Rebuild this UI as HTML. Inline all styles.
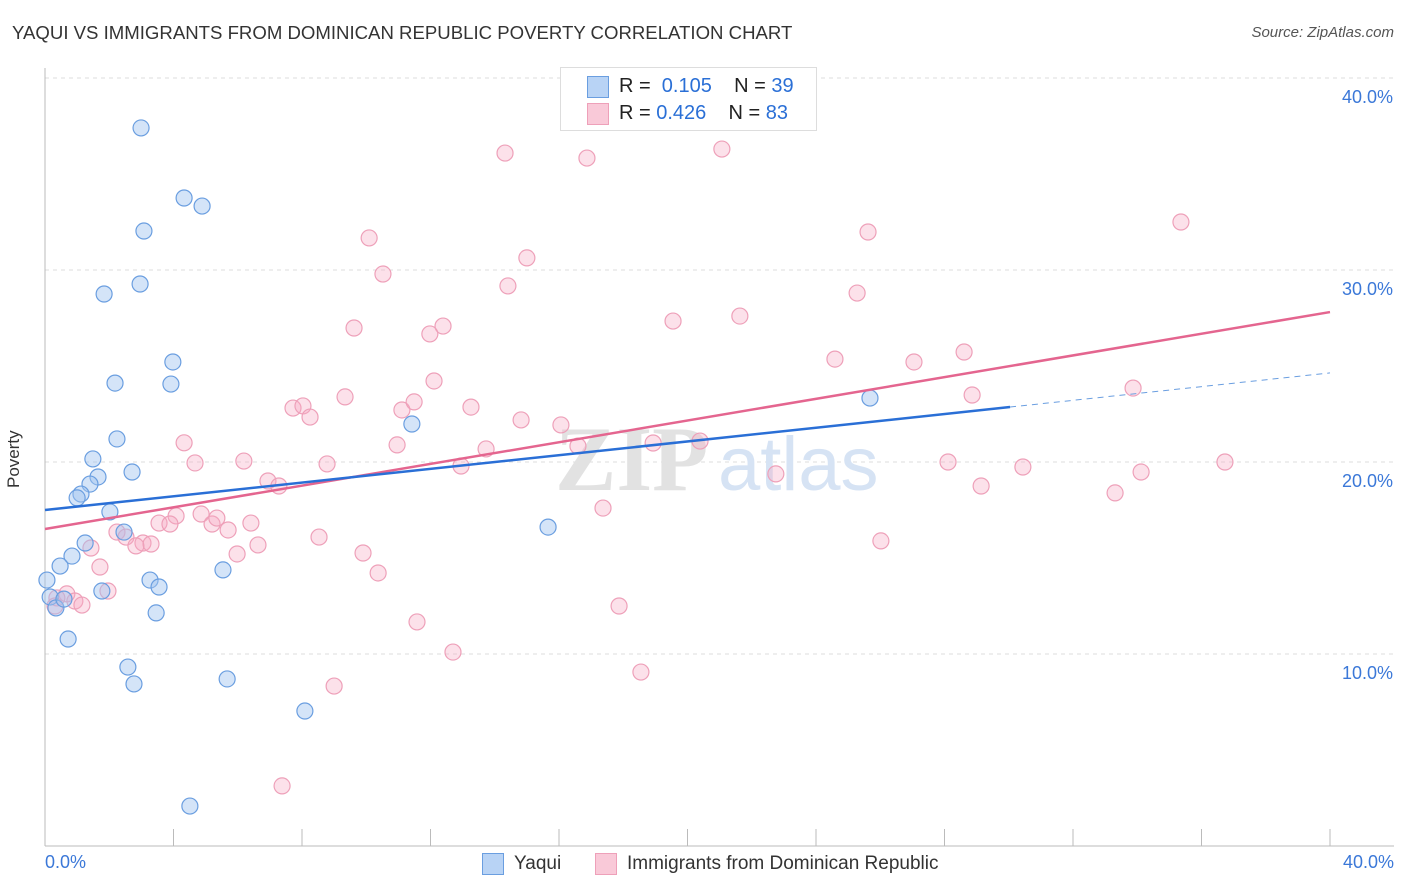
<!DOCTYPE html>
<html><head><meta charset="utf-8"><style>
body{margin:0;background:#fff;font-family:"Liberation Sans",sans-serif;}
#wrap{position:relative;width:1406px;height:892px;overflow:hidden;}
.t{position:absolute;white-space:nowrap;}
</style></head><body>
<div id="wrap">
<div class="t" style="left:12px;top:22px;font-size:18.6px;color:#333;">YAQUI VS IMMIGRANTS FROM DOMINICAN REPUBLIC POVERTY CORRELATION CHART</div>
<div class="t" style="right:12px;top:24px;font-size:15px;color:#555;font-style:italic;">Source: ZipAtlas.com</div>
<svg id="svg" width="1406" height="892" style="position:absolute;left:0;top:0"></svg>
</div>
<script>
const yaquiX=[2.99,4.33,4.89,3.08,1.84,2.96,3.98,2.18,3.92,2.24,1.49,1.65,1.40,1.12,1.00,2.71,2.02,2.46,1.25,0.84,0.47,0.06,0.16,0.34,0.59,0.72,1.77,3.27,3.55,3.46,2.58,2.77,5.54,5.67,8.09,4.51,11.42,15.66,25.68];
const yaquiY=[37.40,33.75,33.33,32.03,28.75,29.27,25.21,24.11,24.06,21.20,20.16,19.22,18.85,18.33,18.13,19.48,17.40,16.35,15.78,15.10,14.58,13.85,12.97,12.40,12.86,10.78,13.28,13.85,13.49,12.14,9.32,8.44,14.38,8.70,7.03,2.08,21.98,16.61,23.33];
const domX=[14.32,16.87,21.07,35.36,10.09,25.62,15.00,10.52,14.41,25.28,19.55,21.63,9.62,12.39,11.98,24.59,27.05,28.61,12.11,9.34,7.72,8.03,8.25,11.11,11.49,13.26,28.86,33.87,14.82,16.06,4.33,10.96,13.73,16.59,18.93,20.39,4.67,6.19,8.78,12.95,28.11,30.44,34.12,36.73,22.75,6.94,7.28,29.14,33.31,17.37,4.08,3.55,3.89,4.86,5.20,5.35,6.41,5.70,2.24,2.52,3.05,3.30,2.83,8.53,6.63,26.02,1.43,5.98,9.90,1.71,10.37,1.96,0.68,0.37,0.93,1.15,0.31,17.87,11.58,12.70,18.55,9.00,7.38];
const domY=[36.09,35.83,36.30,32.50,31.67,31.98,30.63,29.79,29.17,28.80,27.34,27.60,26.98,27.08,26.67,25.36,25.21,25.73,24.22,23.39,22.81,22.92,22.34,22.71,23.13,22.86,23.49,23.85,22.19,21.93,21.00,20.89,20.68,20.83,20.99,21.09,19.95,20.05,19.90,19.79,20.00,19.74,19.48,20.00,19.38,19.01,18.75,18.75,18.39,17.60,17.19,16.82,16.77,17.29,16.77,17.08,16.82,16.46,16.35,16.09,15.78,15.73,15.63,16.09,15.68,15.89,15.52,15.21,15.26,14.53,14.22,13.28,13.13,12.92,12.76,12.55,12.50,12.50,11.67,10.10,9.06,8.33,3.13];
const yTicks=[10,20,30,40];
const yTickLabels=["10.0%","20.0%","30.0%","40.0%"];
const yaquiTrend=[17.5,24.64];
const domTrend=[16.51,27.81];
const yaquiSolidEnd=30.04;

const NS="http://www.w3.org/2000/svg";
const svg=document.getElementById('svg');
const X=v=>45+v*1285/40;
const Y=v=>846-v*19.2;
function mk(tag,attrs){const e=document.createElementNS(NS,tag);for(const k in attrs)e.setAttribute(k,attrs[k]);svg.appendChild(e);return e;}
yTicks.forEach((t,i)=>{
  const g=mk('line',{x1:45,x2:1394,y1:Y(t),y2:Y(t),stroke:'#ddd','stroke-dasharray':'4,4'});
  
  
  const tx=mk('text',{x:1393,y:Y(t)+25,'text-anchor':'end','font-size':18,fill:'#3b78d8','font-family':'Liberation Sans, sans-serif'});
  tx.textContent=yTickLabels[i];
  
  
});
let ax=mk('line',{x1:45,x2:45,y1:68,y2:846,stroke:'#bbb'});


ax=mk('line',{x1:45,x2:1394,y1:846,y2:846,stroke:'#bbb'});


for(let i=1;i<=10;i++){const tk=mk('line',{x1:X(i*4),x2:X(i*4),y1:829,y2:846,stroke:'#bbb'});

}
let wm=mk('text',{x:555,y:490,'font-size':92,fill:'#e2e2e2','font-family':'Liberation Serif, serif','font-weight':'bold'});wm.textContent='ZIP';


wm=mk('text',{x:718,y:490,'font-size':76,fill:'#d6e3f4','font-family':'Liberation Sans, sans-serif'});wm.textContent='atlas';


domX.forEach((v,i)=>{const c=mk('circle',{cx:X(v),cy:Y(domY[i]),r:8,fill:'rgba(246,170,195,0.35)',stroke:'#eea0b9','stroke-width':1.2});

});
yaquiX.forEach((v,i)=>{const c=mk('circle',{cx:X(v),cy:Y(yaquiY[i]),r:8,fill:'rgba(160,196,240,0.45)',stroke:'#6a9ee0','stroke-width':1.2});

});
const yAt=(tr,x)=>tr[0]+(tr[1]-tr[0])*x/40;
let l=mk('line',{x1:X(0),y1:Y(domTrend[0]),x2:X(40),y2:Y(domTrend[1]),stroke:'#e4658f','stroke-width':2.5});


l=mk('line',{x1:X(0),y1:Y(yaquiTrend[0]),x2:X(yaquiSolidEnd),y2:Y(yAt(yaquiTrend,yaquiSolidEnd)),stroke:'#2a6fd6','stroke-width':2.5});


l=mk('line',{x1:X(yaquiSolidEnd),y1:Y(yAt(yaquiTrend,yaquiSolidEnd)),x2:X(40),y2:Y(yaquiTrend[1]),stroke:'#6a9ee0','stroke-width':1,'stroke-dasharray':'6,5'});


</script>
<div class="t" style="left:4px;font-size:17px;color:#333;transform:rotate(-90deg);transform-origin:left top;top:488px;">Poverty</div>
<div class="t" style="left:45px;top:852px;font-size:18px;color:#3b78d8;">0.0%</div>
<div class="t" style="right:12px;top:852px;font-size:18px;color:#3b78d8;">40.0%</div>
<div style="position:absolute;left:560px;top:67px;width:255px;height:62px;border:1px solid #ddd;background:#fff;font-size:20px;">
 <div style="position:absolute;left:26px;top:8px;width:20px;height:20px;background:#b8d3f5;border:1px solid #6a9ee0;"></div>
 <div class="t" style="left:58px;top:7px;color:#222;">R = <span style="color:#2a6fd6">&nbsp;0.105</span>&nbsp;&nbsp;&nbsp;&nbsp;N = <span style="color:#2a6fd6">39</span></div>
 <div style="position:absolute;left:26px;top:35px;width:20px;height:20px;background:#f9c9d8;border:1px solid #eea0b9;"></div>
 <div class="t" style="left:58px;top:34px;color:#222;">R = <span style="color:#2a6fd6">0.426</span>&nbsp;&nbsp;&nbsp;&nbsp;N = <span style="color:#2a6fd6">83</span></div>
</div>
<div style="position:absolute;left:482px;top:853px;font-size:19px;color:#333;">
 <div style="position:absolute;left:0;top:0;width:20px;height:20px;background:#b8d3f5;border:1px solid #6a9ee0;"></div>
 <span class="t" style="left:32px;top:0;">Yaqui</span></div>
<div style="position:absolute;left:595px;top:853px;font-size:19px;color:#333;">
 <div style="position:absolute;left:0;top:0;width:20px;height:20px;background:#f9c9d8;border:1px solid #eea0b9;"></div>
 <span class="t" style="left:32px;top:0;">Immigrants from Dominican Republic</span></div>
</body></html>
